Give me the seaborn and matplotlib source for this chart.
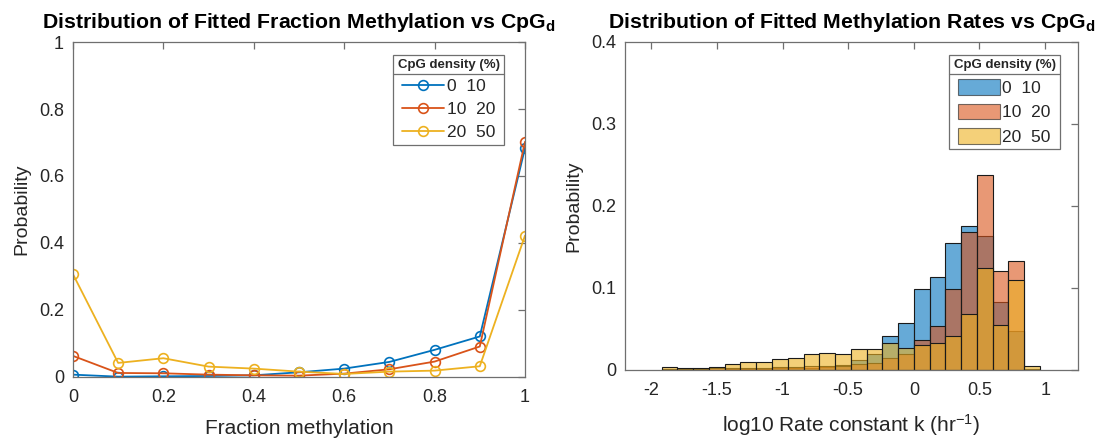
import numpy as np
import pandas as pd
import matplotlib
matplotlib.use("Agg")
import matplotlib.pyplot as plt
import seaborn as sns
from matplotlib.lines import Line2D
from matplotlib.patches import Patch

# ---- data -------------------------------------------------------------
groups = ["0  10", "10  20", "20  50"]
colors = ["#0072BD", "#D95319", "#EDB120"]

frac_x = [0.0, 0.1, 0.2, 0.3, 0.4, 0.5, 0.6, 0.7, 0.8, 0.9, 1.0]
frac_low = [0.007, 0.001, 0.002, 0.003, 0.005, 0.014, 0.025, 0.045, 0.081, 0.121, 0.683]
frac_mid = [0.063, 0.012, 0.011, 0.007, 0.005, 0.004, 0.010, 0.023, 0.046, 0.091, 0.702]
frac_high = [0.307, 0.042, 0.056, 0.031, 0.025, 0.016, 0.009, 0.016, 0.019, 0.032, 0.422]

# log10 rate histogram, bin width 0.12 from -1.92 to 0.96
rate_edges = [round(i * 0.12, 2) for i in range(-16, 9)]
rate_low = [0, 0, 0, 0, 0.001, 0.001, 0.001, 0.002, 0.002, 0.003, 0.004, 0.006,
            0.012, 0.020, 0.041, 0.057, 0.099, 0.1135, 0.155, 0.1755, 0.163, 0.083, 0.048, 0.0]
rate_mid = [0.001, 0.001, 0.001, 0.002, 0.002, 0.003, 0.003, 0.004, 0.004, 0.005, 0.005, 0.005,
            0.0073, 0.008, 0.0143, 0.019, 0.037, 0.054, 0.099, 0.1686, 0.238, 0.121, 0.1335, 0.001]
rate_high = [0.0033, 0.002, 0.002, 0.004, 0.007, 0.0102, 0.0102, 0.0135, 0.0140, 0.019, 0.0205, 0.0198,
             0.0255, 0.026, 0.0327, 0.0265, 0.031, 0.0327, 0.041, 0.068, 0.1245, 0.0547, 0.110, 0.0053]

# ---- style ------------------------------------------------------------
sns.set_theme(style="white")
plt.rcParams["font.family"] = ["Liberation Sans", "DejaVu Sans"]
plt.rcParams["mathtext.fontset"] = "custom"
plt.rcParams["mathtext.rm"] = "Liberation Sans"
plt.rcParams["mathtext.it"] = "Liberation Sans:italic"
plt.rcParams["mathtext.bf"] = "Liberation Sans:bold"

AX_COL = "#6f6f6f"
TXT_COL = "#262626"
TITLE_SIZE = 15.3
LEG_SIZE = 12.5
LEG_TITLE_SIZE = 9.5

fig = plt.figure(figsize=(11.12, 4.38), dpi=100)
ax1 = fig.add_axes([0.0656, 0.1393, 0.4065, 0.7648])
ax2 = fig.add_axes([0.5620, 0.1553, 0.4074, 0.7489])


def style_axes(ax):
    for s in ax.spines.values():
        s.set_visible(True)
        s.set_color(AX_COL)
        s.set_linewidth(0.9)
    ax.tick_params(direction="in", top=True, right=True, length=5, width=0.9,
                   color=AX_COL, labelcolor=TXT_COL, labelsize=13)
    ax.tick_params(axis="y", pad=6.5)
    ax.tick_params(axis="x", pad=9)


def make_legend(ax, handles, anchor, **kw):
    leg = ax.legend(handles, groups, title="CpG density (%)",
                    loc="upper right", bbox_to_anchor=anchor, borderaxespad=0,
                    fontsize=LEG_SIZE,
                    title_fontproperties={"weight": "bold", "size": LEG_TITLE_SIZE},
                    fancybox=False, framealpha=1, edgecolor=AX_COL, handlelength=2.4,
                    labelspacing=0.45, handletextpad=0.15, borderpad=0.25, **kw)
    leg.get_frame().set_linewidth(0.9)
    for t in leg.get_texts():
        t.set_color(TXT_COL)
    return leg


# ---- left: fraction methylation lines ----------------------------------
for vals, c in zip([frac_low, frac_mid, frac_high], colors):
    df = pd.DataFrame({"frac": frac_x, "prob": vals})
    sns.lineplot(data=df, x="frac", y="prob", ax=ax1, color=c, lw=1.3,
                 marker="o", markersize=7, markerfacecolor="none",
                 markeredgecolor=c, markeredgewidth=1.2)

ax1.set_xlim(0, 1)
ax1.set_ylim(0, 1)
ax1.set_xticks([0, 0.2, 0.4, 0.6, 0.8, 1.0])
ax1.set_xticklabels(["0", "0.2", "0.4", "0.6", "0.8", "1"])
ax1.set_yticks([0, 0.2, 0.4, 0.6, 0.8, 1.0])
ax1.set_yticklabels(["0", "0.2", "0.4", "0.6", "0.8", "1"])
ax1.set_xlabel("Fraction methylation", fontsize=15, color=TXT_COL, labelpad=9)
ax1.set_ylabel("Probability", fontsize=14, color=TXT_COL, labelpad=6)
ax1.set_title(r"Distribution of Fitted Fraction Methylation vs CpG$_\mathbf{d}$",
              fontsize=TITLE_SIZE, fontweight="bold", color="black", pad=10)
style_axes(ax1)

line_handles = [Line2D([], [], color=c, lw=1.3, marker="o", markersize=7,
                       markerfacecolor="none", markeredgecolor=c, markeredgewidth=1.2)
                for c in colors]
leg1 = make_legend(ax1, line_handles, (0.9535, 0.961))

# ---- right: log10 rate histograms --------------------------------------
centers = [(a + b) / 2 for a, b in zip(rate_edges[:-1], rate_edges[1:])]
for vals, c in zip([rate_low, rate_mid, rate_high], colors):
    hdf = pd.DataFrame({"k": centers, "w": vals})
    sns.histplot(data=hdf, x="k", weights="w", bins=rate_edges, ax=ax2, color=c,
                 alpha=0.6, edgecolor="#1a1a1a", linewidth=0.8)

ax2.set_xlim(-2.2, 1.25)
ax2.set_ylim(0, 0.4)
ax2.set_xticks([-2, -1.5, -1, -0.5, 0, 0.5, 1])
ax2.set_xticklabels(["-2", "-1.5", "-1", "-0.5", "0", "0.5", "1"])
ax2.set_yticks([0, 0.1, 0.2, 0.3, 0.4])
ax2.set_yticklabels(["0", "0.1", "0.2", "0.3", "0.4"])
ax2.set_xlabel(r"log10 Rate constant k (hr$^{-1}$)", fontsize=15, color=TXT_COL, labelpad=9)
ax2.set_ylabel("Probability", fontsize=14, color=TXT_COL, labelpad=6)
ax2.set_title(r"Distribution of Fitted Methylation Rates vs CpG$_\mathbf{d}$",
              fontsize=TITLE_SIZE, fontweight="bold", color="black", pad=10)
style_axes(ax2)

patch_handles = [Patch(facecolor=c, alpha=0.6, edgecolor="#1a1a1a", linewidth=0.8) for c in colors]
leg2 = make_legend(ax2, patch_handles, (0.960, 0.960), handleheight=1.0)

# separator under each legend title
fig.canvas.draw()
renderer = fig.canvas.get_renderer()
inv = fig.transFigure.inverted()
for leg in (leg1, leg2):
    fb = leg.get_frame().get_window_extent(renderer)
    tb = leg.get_title().get_window_extent(renderer)
    y = tb.y0 - 3
    (x0, yf), (x1, _) = inv.transform([(fb.x0, y), (fb.x1, y)])
    fig.add_artist(Line2D([x0, x1], [yf, yf], transform=fig.transFigure,
                          color=AX_COL, lw=0.9, zorder=10))

fig.savefig("out.png", dpi=100)
